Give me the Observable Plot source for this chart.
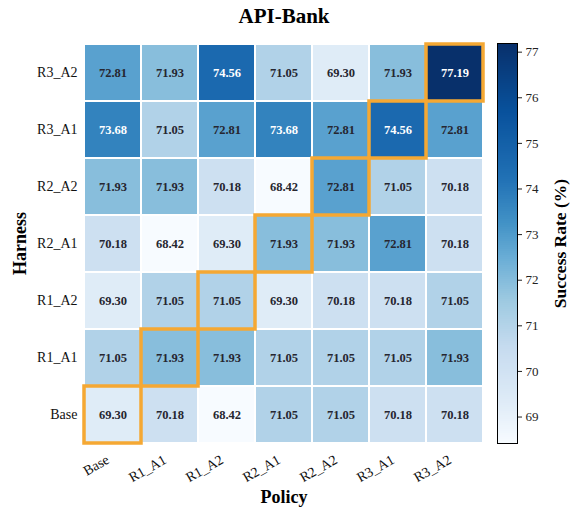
<!DOCTYPE html>
<html>
<head>
<meta charset="utf-8">
<script src="https://cdn.jsdelivr.net/npm/d3@7"></script>
<script src="https://cdn.jsdelivr.net/npm/@observablehq/plot@0.6"></script>
<style>
  html, body { margin: 0; padding: 0; background: #fff; }
  #wrap { position: relative; width: 570px; height: 511px; overflow: hidden; }
  #wrap svg { position: absolute; top: 0; }
</style>
</head>
<body>
<div id="wrap"></div>
<script>
// ---- data ----
const title = "API-Bank";
const xLabel = "Policy";
const yLabel = "Harness";
const colorLabel = "Success Rate (%)";
const policies = ["Base", "R1_A1", "R1_A2", "R2_A1", "R2_A2", "R3_A1", "R3_A2"];
const harnesses = ["R3_A2", "R3_A1", "R2_A2", "R2_A1", "R1_A2", "R1_A1", "Base"]; // top to bottom
const rowR3_A2 = [72.81, 71.93, 74.56, 71.05, 69.30, 71.93, 77.19];
const rowR3_A1 = [73.68, 71.05, 72.81, 73.68, 72.81, 74.56, 72.81];
const rowR2_A2 = [71.93, 71.93, 70.18, 68.42, 72.81, 71.05, 70.18];
const rowR2_A1 = [70.18, 68.42, 69.30, 71.93, 71.93, 72.81, 70.18];
const rowR1_A2 = [69.30, 71.05, 71.05, 69.30, 70.18, 70.18, 71.05];
const rowR1_A1 = [71.05, 71.93, 71.93, 71.05, 71.05, 71.05, 71.93];
const rowBase  = [69.30, 70.18, 68.42, 71.05, 71.05, 70.18, 70.18];
const colorTicks = [69, 70, 71, 72, 73, 74, 75, 76, 77];
// Blues palette and where each stop sits along the value range (fraction)
const blues = ["#f7fbff","#deebf7","#c6dbef","#9ecae1","#6baed6","#4292c6","#2171b5","#08519c","#08306b"];
const bluesPos = [0, 0.105, 0.24, 0.355, 0.46, 0.55, 0.66, 0.83, 1];

// ---- build table ----
const rows = {R3_A2: rowR3_A2, R3_A1: rowR3_A1, R2_A2: rowR2_A2, R2_A1: rowR2_A1, R1_A2: rowR1_A2, R1_A1: rowR1_A1, Base: rowBase};
const data = [];
for (const h of harnesses) rows[h].forEach((v, i) => data.push({harness: h, policy: policies[i], value: v}));
const diag = data.filter(d => d.harness === d.policy);
const lo = d3.min(data, d => d.value), hi = d3.max(data, d => d.value);
const colorDomain = bluesPos.map(p => lo + (hi - lo) * p);
const colorScale = {type: "linear", domain: colorDomain, range: blues, interpolate: "rgb", clamp: true};

const FONT = "'Liberation Serif', 'Times New Roman', serif";
const W = 570, H = 511;
const mTop = 43, mBottom = 68, mLeft = 84, mRight = 87;

const main = Plot.plot({
  width: W, height: H,
  marginTop: mTop, marginBottom: mBottom, marginLeft: mLeft, marginRight: mRight,
  style: {fontFamily: FONT, background: "transparent", color: "#000"},
  x: {domain: policies, padding: 0, axis: null},
  y: {domain: harnesses, padding: 0, axis: null},
  color: colorScale,
  marks: [
    Plot.cell(data, {x: "policy", y: "harness", fill: "value", inset: 1}),
    Plot.text(data, {x: "policy", y: "harness", text: d => d.value.toFixed(2),
      fill: d => d.value > 73.2 ? "#ffffff" : "#262630",
      fontFamily: FONT, fontWeight: "bold", fontSize: 12.5}),
    Plot.cell(diag, {x: "policy", y: "harness", fill: "none", stroke: "#f5a833", strokeWidth: 3.5, inset: 0}),
    // tick labels
    Plot.text(harnesses, {y: d => d, frameAnchor: "left", textAnchor: "end", dx: -7, fontFamily: FONT, fontSize: 14, fill: "#111"}),
    Plot.text(policies, {x: d => d, frameAnchor: "bottom", textAnchor: "end", lineAnchor: "middle", rotate: -30, dx: -5, dy: 15, fontFamily: FONT, fontSize: 14, fill: "#111"}),
    // titles
    Plot.text([title], {frameAnchor: "top", textAnchor: "middle", lineAnchor: "bottom", dy: -20.5, fontFamily: FONT, fontSize: 21, fontWeight: "bold", fill: "#000"}),
    Plot.text([xLabel], {frameAnchor: "bottom", textAnchor: "middle", lineAnchor: "bottom", dy: 59, fontFamily: FONT, fontSize: 18, fontWeight: "bold", fill: "#000"}),
    Plot.text([yLabel], {frameAnchor: "left", textAnchor: "middle", lineAnchor: "bottom", rotate: -90, dx: -59, fontFamily: FONT, fontSize: 18, fontWeight: "bold", fill: "#000"})
  ]
});
main.style.left = "0px";
document.getElementById("wrap").appendChild(main);

// ---- colorbar ----
const nBands = 200;
const step = (hi - lo) / nBands;
const bands = d3.range(nBands).map(i => lo + i * step);
const cbar = Plot.plot({
  width: 73, height: H,
  marginTop: mTop, marginBottom: mBottom, marginLeft: 0, marginRight: 53,
  style: {fontFamily: FONT, background: "transparent", color: "#222"},
  x: {domain: [0, 1], axis: null},
  y: {domain: [lo, hi], axis: null},
  color: colorScale,
  marks: [
    Plot.rect(bands, {x1: 0, x2: 1, y1: d => d, y2: d => Math.min(hi, d + step * 3), fill: d => d + step / 2, shapeRendering: "crispEdges"}),
    Plot.frame({stroke: "#000", strokeWidth: 1}),
    Plot.axisY({anchor: "right", ticks: colorTicks, tickFormat: d => String(d), tickSize: 4, tickPadding: 4, fontSize: 13, label: null}),
    Plot.text([colorLabel], {frameAnchor: "right", textAnchor: "middle", lineAnchor: "bottom", rotate: -90, dx: 48, fontFamily: FONT, fontSize: 17.5, fontWeight: "bold", fill: "#000"})
  ]
});
cbar.style.left = "497px";
document.getElementById("wrap").appendChild(cbar);
</script>
</body>
</html>
